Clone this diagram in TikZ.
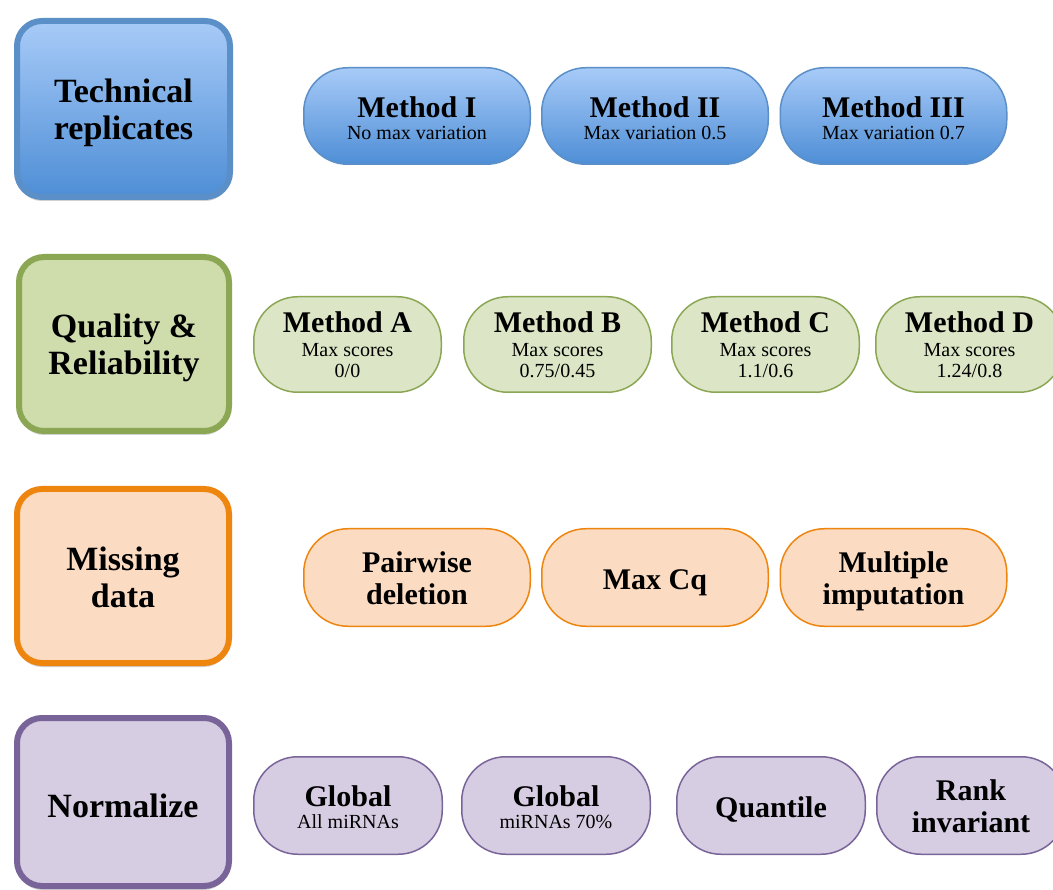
\documentclass[tikz,border=0pt]{standalone}
\usepackage{fontspec}
\setmainfont{Liberation Serif}
\usetikzlibrary{shadows}
\definecolor{bluetop}{HTML}{A8CBF8}
\definecolor{bluebot}{HTML}{4E8ED6}
\definecolor{blueline}{HTML}{5B8FC7}
\definecolor{greenbox}{HTML}{CFDCAC}
\definecolor{greenpill}{HTML}{DCE6C6}
\definecolor{greenline}{HTML}{8BA753}
\definecolor{orangefill}{HTML}{FBDCC2}
\definecolor{orangeline}{HTML}{EE850E}
\definecolor{purplefill}{HTML}{D6CDE2}
\definecolor{purpleline}{HTML}{79649A}
\newcommand{\ttlfont}{\fontsize{30}{32}\selectfont\bfseries}
\newcommand{\boxfont}{\fontsize{34}{37}\selectfont\bfseries}
\newcommand{\subfont}{\fontsize{20}{21}\selectfont}
\tikzset{
  catbox/.style={draw, line width=6pt, rounded corners=25pt, inner sep=0pt, align=center,
    font=\boxfont, text depth=0pt,
    drop shadow={shadow xshift=0pt, shadow yshift=-4pt, opacity=0.3, fill=black!60}},
  pill/.style={draw, line width=1.5pt, rounded corners=44pt, inner sep=0pt, align=center, text depth=0pt},
  pillsub/.style={pill, font=\subfont},
  pillttl/.style={pill, font=\ttlfont},
  blueshade/.style={top color=bluetop, bottom color=bluebot},
}
\begin{document}
\begin{tikzpicture}[x=1pt,y=-1pt]
\useasboundingbox[fill=white] (0,0) rectangle (1053,890);
% Row 1
\node[catbox, blueshade, draw=blueline, minimum width=213pt, minimum height=176pt, text height=62pt] (tech) at (123.5,109) {Technical\\replicates};
\node[pillsub, blueshade, draw=blueline, minimum width=226.5pt, minimum height=96.5pt, text height=48pt] (m1) at (417,116) {{\ttlfont Method I}\\[1pt]No max variation};
\node[pillsub, blueshade, draw=blueline, minimum width=226.5pt, minimum height=96.5pt, text height=48pt] (m2) at (655,116) {{\ttlfont Method II}\\[1pt]Max variation 0.5};
\node[pillsub, blueshade, draw=blueline, minimum width=226.5pt, minimum height=96.5pt, text height=48pt] (m3) at (893.5,116) {{\ttlfont Method III}\\[1pt]Max variation 0.7};
% Row 2
\node[catbox, fill=greenbox, draw=greenline, minimum width=210pt, minimum height=174pt, text height=62pt] (qual) at (124,344) {Quality \&\\Reliability};
\node[pillsub, fill=greenpill, draw=greenline, minimum width=187.5pt, minimum height=95.5pt, text height=67pt] (ma) at (347.5,344.5) {{\ttlfont Method A}\\[3pt]Max scores\\0/0};
\node[pillsub, fill=greenpill, draw=greenline, minimum width=187.5pt, minimum height=95.5pt, text height=67pt] (mb) at (557.5,344.5) {{\ttlfont Method B}\\[3pt]Max scores\\0.75/0.45};
\node[pillsub, fill=greenpill, draw=greenline, minimum width=187.5pt, minimum height=95.5pt, text height=67pt] (mc) at (765.5,344.5) {{\ttlfont Method C}\\[3pt]Max scores\\1.1/0.6};
\node[pillsub, fill=greenpill, draw=greenline, minimum width=187.5pt, minimum height=95.5pt, text height=67pt] (md) at (969.5,344.5) {{\ttlfont Method D}\\[3pt]Max scores\\1.24/0.8};
% Row 3
\node[catbox, fill=orangefill, draw=orangeline, minimum width=212pt, minimum height=174pt, text height=62pt] (miss) at (123,576) {Missing\\data};
\node[pillttl, fill=orangefill, draw=orangeline, minimum width=226.5pt, minimum height=97.5pt, text height=53pt] (pd) at (417,577.5) {Pairwise\\deletion};
\node[pillttl, fill=orangefill, draw=orangeline, minimum width=226.5pt, minimum height=97.5pt, text height=23pt] (mcq) at (655,577.5) {Max Cq};
\node[pillttl, fill=orangefill, draw=orangeline, minimum width=226.5pt, minimum height=97.5pt, text height=53pt] (mi) at (893.5,577.5) {Multiple\\imputation};
% Row 4
\node[catbox, fill=purplefill, draw=purpleline, minimum width=212pt, minimum height=168pt, text height=30pt] (norm) at (123,802) {Normalize};
\node[pillsub, fill=purplefill, draw=purpleline, minimum width=188.5pt, minimum height=97.5pt, text height=45pt] (g1) at (348,805.5) {{\ttlfont Global}\\[1pt]All miRNAs};
\node[pillsub, fill=purplefill, draw=purpleline, minimum width=188.5pt, minimum height=97.5pt, text height=45pt] (g2) at (556,805.5) {{\ttlfont Global}\\[1pt]miRNAs 70\%};
\node[pillttl, fill=purplefill, draw=purpleline, minimum width=188.5pt, minimum height=97.5pt, text height=23pt] (qu) at (771,805.5) {Quantile};
\node[pillttl, fill=purplefill, draw=purpleline, minimum width=188.5pt, minimum height=97.5pt, text height=53pt] (ri) at (971,805.5) {Rank\\invariant};
\end{tikzpicture}
\end{document}
